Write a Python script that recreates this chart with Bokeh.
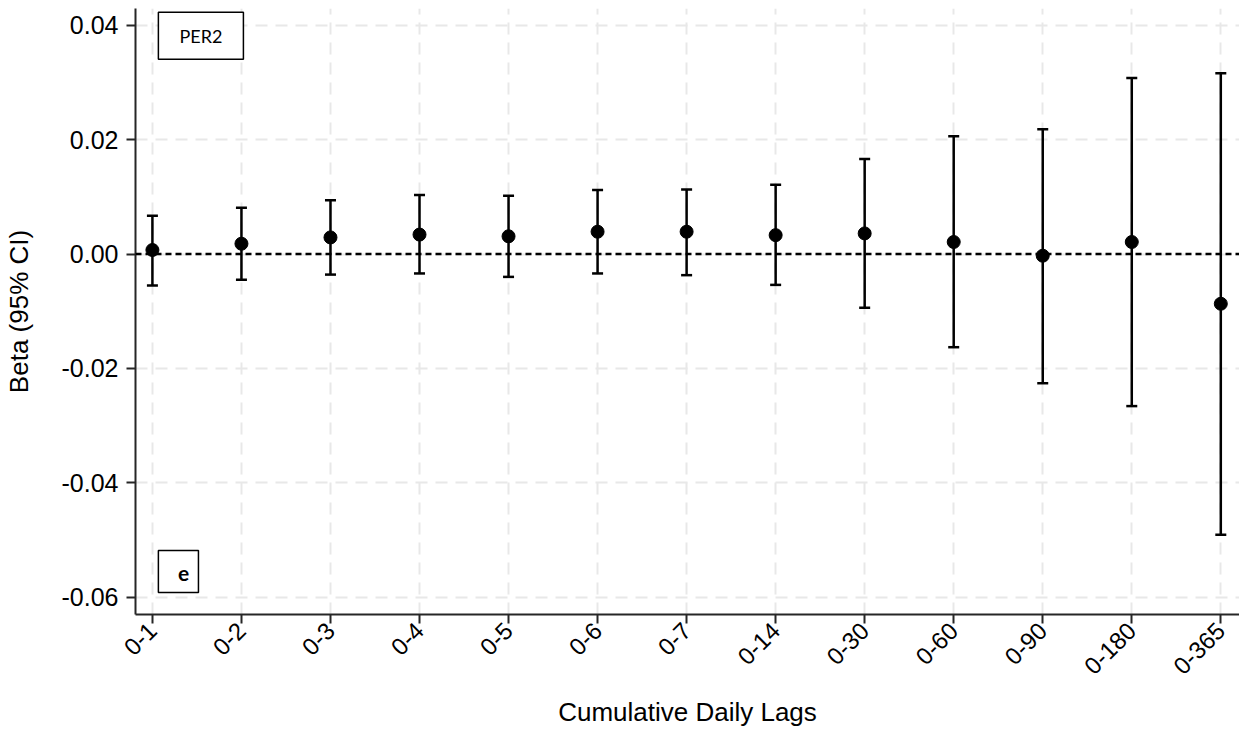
import math

from bokeh.embed import file_html
from bokeh.models import (BoxAnnotation, ColumnDataSource, FixedTicker, Label,
                          Range1d, Span, TeeHead, Whisker)
from bokeh.plotting import figure
from bokeh.resources import INLINE

# Cumulative daily lag windows and their estimates (beta with 95% CI)
lags = ["0-1", "0-2", "0-3", "0-4", "0-5", "0-6", "0-7",
        "0-14", "0-30", "0-60", "0-90", "0-180", "0-365"]
beta = [0.0007, 0.0018, 0.0029, 0.0034, 0.0031, 0.0039, 0.0039,
        0.0033, 0.0036, 0.0021, -0.0003, 0.0021, -0.0087]
ci_low = [-0.0055, -0.0045, -0.0036, -0.0034, -0.0040, -0.0034, -0.0037,
          -0.0054, -0.0094, -0.0163, -0.0226, -0.0266, -0.0491]
ci_high = [0.0067, 0.0081, 0.0094, 0.0103, 0.0102, 0.0112, 0.0113,
           0.0121, 0.0166, 0.0206, 0.0218, 0.0308, 0.0316]
y_ticks = [-0.06, -0.04, -0.02, 0.0, 0.02, 0.04]
y_tick_labels = ["-0.06", "-0.04", "-0.02", "0.00", "0.02", "0.04"]

xs = list(range(len(lags)))
src = ColumnDataSource(dict(x=xs, beta=beta, lo=ci_low, hi=ci_high))

p = figure(width=1239, height=729, output_backend="svg", toolbar_location=None,
           x_range=Range1d(-0.19, 12.21), y_range=Range1d(-0.06305, 0.04294),
           min_border_left=135, min_border_right=0, min_border_top=8,
           min_border_bottom=115)
p.outline_line_color = None
p.background_fill_color = "white"
p.border_fill_color = "white"

TICK_FONT = "Liberation Sans"

# axes
for ax in (p.xaxis[0], p.yaxis[0]):
    ax.axis_line_color = "#262626"
    ax.axis_line_width = 2
    ax.major_tick_line_color = "#262626"
    ax.major_tick_line_width = 2
    ax.major_tick_out = 9
    ax.major_tick_in = 0
    ax.minor_tick_line_color = None
    ax.major_label_text_font = TICK_FONT
    ax.major_label_text_font_size = "25px"
    ax.major_label_text_color = "black"
    ax.axis_label_text_font = TICK_FONT
    ax.axis_label_text_font_size = "26px"
    ax.axis_label_text_font_style = "normal"
    ax.axis_label_text_color = "black"

p.xaxis.ticker = FixedTicker(ticks=xs)
p.xaxis.major_label_overrides = {i: lab for i, lab in zip(xs, lags)}
p.xaxis.major_label_orientation = math.pi / 4
p.xaxis.major_label_text_font_size = "24px"
p.xaxis.major_label_standoff = 3
p.xaxis.axis_label = "Cumulative Daily Lags"
p.xaxis.axis_label_standoff = 12

p.yaxis.ticker = FixedTicker(ticks=y_ticks)
p.yaxis.major_label_overrides = {t: lab for t, lab in zip(y_ticks, y_tick_labels)}
p.yaxis.major_label_standoff = 8
p.yaxis.axis_label = "Beta (95% CI)"
p.yaxis.axis_label_standoff = 25

# light dashed grid
for g in (p.xgrid[0], p.ygrid[0]):
    g.grid_line_color = "#e8e8e8"
    g.grid_line_width = 2
    g.grid_line_dash = "12 8"
p.xgrid.ticker = FixedTicker(ticks=xs)
p.ygrid.ticker = FixedTicker(ticks=y_ticks)

# reference line at zero
p.add_layout(Span(location=0, dimension="width", line_color="black",
                  line_width=2.5, line_dash="6 4"))

# confidence intervals
p.add_layout(Whisker(source=src, base="x", lower="lo", upper="hi",
                     line_color="black", line_width=2.5,
                     upper_head=TeeHead(size=11, line_color="black", line_width=2.5),
                     lower_head=TeeHead(size=11, line_color="black", line_width=2.5)))

# point estimates
p.scatter("x", "beta", source=src, size=13, color="black")

# panel labels
p.add_layout(BoxAnnotation(left=0.067, right=1.022, top=0.0423, bottom=0.03407,
                           fill_color="white", fill_alpha=1.0,
                           line_color="black", line_alpha=1.0, line_width=1.5))
p.add_layout(Label(x=0.545, y=0.03818, text="PER2", text_align="center",
                   text_baseline="middle", text_font="Lato",
                   text_font_size="18px", text_color="black"))
p.add_layout(BoxAnnotation(left=0.067, right=0.517, top=-0.05185, bottom=-0.0592,
                           fill_color="white", fill_alpha=1.0,
                           line_color="black", line_alpha=1.0, line_width=1.5))
p.add_layout(Label(x=0.35, y=-0.0558, text="e", text_align="center",
                   text_baseline="middle", text_font="Lato",
                   text_font_size="21px", text_font_style="bold",
                   text_color="black"))

open("out.html", "w").write(file_html(p, INLINE))
